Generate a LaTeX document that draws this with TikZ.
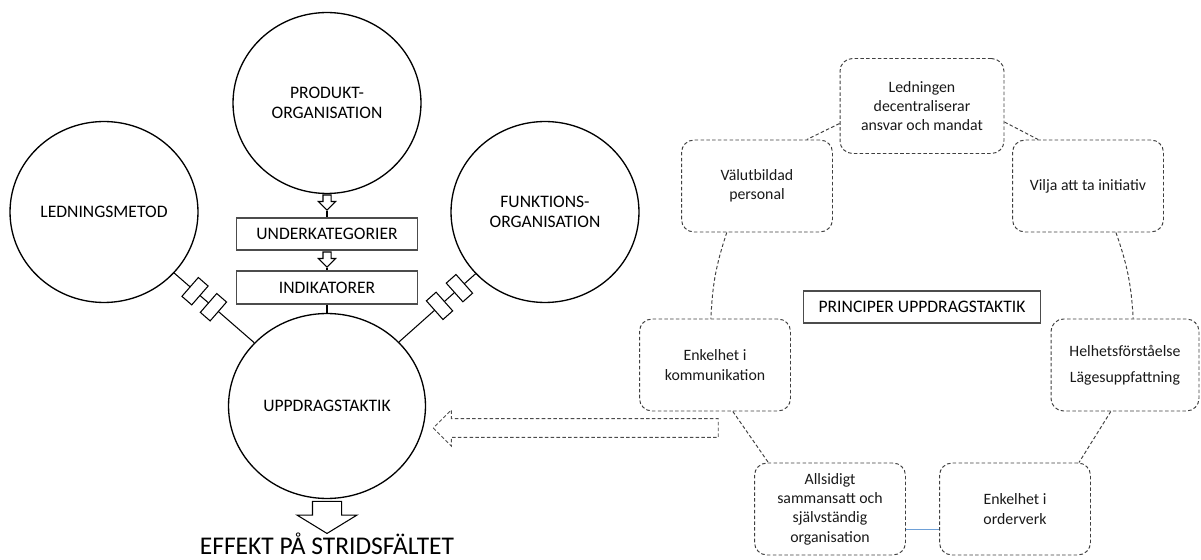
\documentclass[tikz,border=0pt]{standalone}
\usepackage{fontspec}
\setmainfont{Carlito}
\usetikzlibrary{shapes.geometric, shapes.arrows, arrows}
\definecolor{linkblue}{RGB}{110,160,215}
\tikzstyle{bigcircle} = [ellipse, draw=black, line width=0.75pt, minimum width=3.76cm, minimum height=3.62cm, inner sep=0pt, align=center, font=\fontsize{10}{11.5}\selectfont]
\tikzstyle{catbox} = [rectangle, draw=black!70, line width=0.6pt, minimum width=3.62cm, minimum height=0.64cm, inner sep=0pt, font=\fontsize{10}{11.5}\selectfont]
\tikzstyle{principle} = [rectangle, rounded corners=0.25cm, draw=black!75, line width=0.55pt, dash pattern=on 2pt off 1.3pt, minimum width=3.02cm, minimum height=1.84cm, align=center, font=\fontsize{9}{11}\selectfont, text=black!90]
\tikzstyle{hollowarrow} = [single arrow, draw=black, line width=0.6pt, inner xsep=0pt, rotate=-90]
\tikzstyle{joint} = [rectangle, draw=black, fill=white, line width=0.6pt, sloped, minimum width=0.26cm, minimum height=0.5cm, inner sep=0pt]
\tikzstyle{plain} = [draw=black, line width=0.6pt]
\tikzstyle{link} = [draw=black!75, line width=0.55pt, dash pattern=on 2pt off 1.3pt]

\begin{document}
\begin{tikzpicture}[x=0.02cm, y=-0.02cm]
    \useasboundingbox (0,0) rectangle (1201,560);

    % Circles
    \node (prod) [bigcircle] at (327,103) {PRODUKT-\\ORGANISATION};
    \node (ledn) [bigcircle] at (104,212) {LEDNINGSMETOD};
    \node (funk) [bigcircle] at (545,212) {FUNKTIONS-\\ORGANISATION};
    \node (upp) [bigcircle, minimum width=3.94cm, minimum height=3.7cm] at (327,406) {UPPDRAGSTAKTIK};

    % Boxes under the top circle
    \node (under) [catbox] at (327,234) {UNDERKATEGORIER};
    \node (ind) [catbox, minimum height=0.66cm] at (327,287.5) {INDIKATORER};

    % Hollow arrows
    \node (arr1) [hollowarrow, minimum height=0.3cm, inner ysep=0.07cm, single arrow head extend=0.09cm] at (327,200.5) {};
    \node (arr2) [hollowarrow, minimum height=0.3cm, inner ysep=0.07cm, single arrow head extend=0.09cm] at (327,257.5) {};
    \node (effarr) [hollowarrow, minimum height=0.64cm, inner ysep=0.28cm, single arrow head extend=0.31cm, single arrow tip angle=117] at (327,513) {};
    \node (effekt) [anchor=base, font=\fontsize{14.5}{17}\selectfont] at (327,555) {EFFEKT PÅ STRIDSFÄLTET};

    % Dashed arrow from the principles
    \node (princarr) [single arrow, draw=black!70, line width=0.55pt, dash pattern=on 2pt off 1.3pt, inner xsep=0pt, inner ysep=0.18cm, rotate=180, minimum height=5.7cm, single arrow head extend=0.17cm] at (580.5,428) {};

    % Principles
    \node (led) [principle, minimum width=3.28cm, minimum height=1.9cm] at (922,106) {Ledningen\\decentraliserar\\ansvar och mandat};
    \node (valut) [principle] at (757,186) {Välutbildad\\personal};
    \node (vilja) [principle] at (1088,186) {Vilja att ta initiativ};
    \node (princ) [rectangle, draw=black!70, line width=0.6pt, minimum width=4.74cm, minimum height=0.64cm, font=\fontsize{10}{11.5}\selectfont] at (922,307) {PRINCIPER UPPDRAGSTAKTIK};
    \node (enkom) [principle] at (715,365) {Enkelhet i\\kommunikation};
    \node (helhet) [principle, minimum width=2.96cm] at (1125,365) {Helhetsförståelse\\[4pt]Lägesuppfattning};
    \node (alls) [principle] at (830,509) {Allsidigt\\sammansatt och\\självständig\\organisation};
    \node (order) [principle] at (1015,509) {Enkelhet i\\orderverk};

    % Connectors, left
    \draw [plain] (arr1.tip) -- (under);
    \draw [plain] (arr2.tip) -- (ind);
    \draw [plain] (ind) -- (upp);
    \draw [plain] (upp) -- (ledn) node [joint, pos=0.51] {} node [joint, pos=0.74] {};
    \draw [plain] (upp) -- (funk) node [joint, pos=0.53] {} node [joint, pos=0.79] {};

    % Connectors, right
    \draw [link] (led.192) -- (valut.43);
    \draw [link] (led.349) -- (vilja.137);
    \draw [link] (valut.237) to [bend right=8] (enkom.95);
    \draw [link] (vilja.301) to [bend left=8] (helhet.80);
    \draw [link] (enkom.291) -- (alls.143);
    \draw [link] (helhet.253) -- (order.36);
    \draw [draw=linkblue, line width=0.6pt] (alls.-15.5) -- (order.195.5);

\end{tikzpicture}
\end{document}
